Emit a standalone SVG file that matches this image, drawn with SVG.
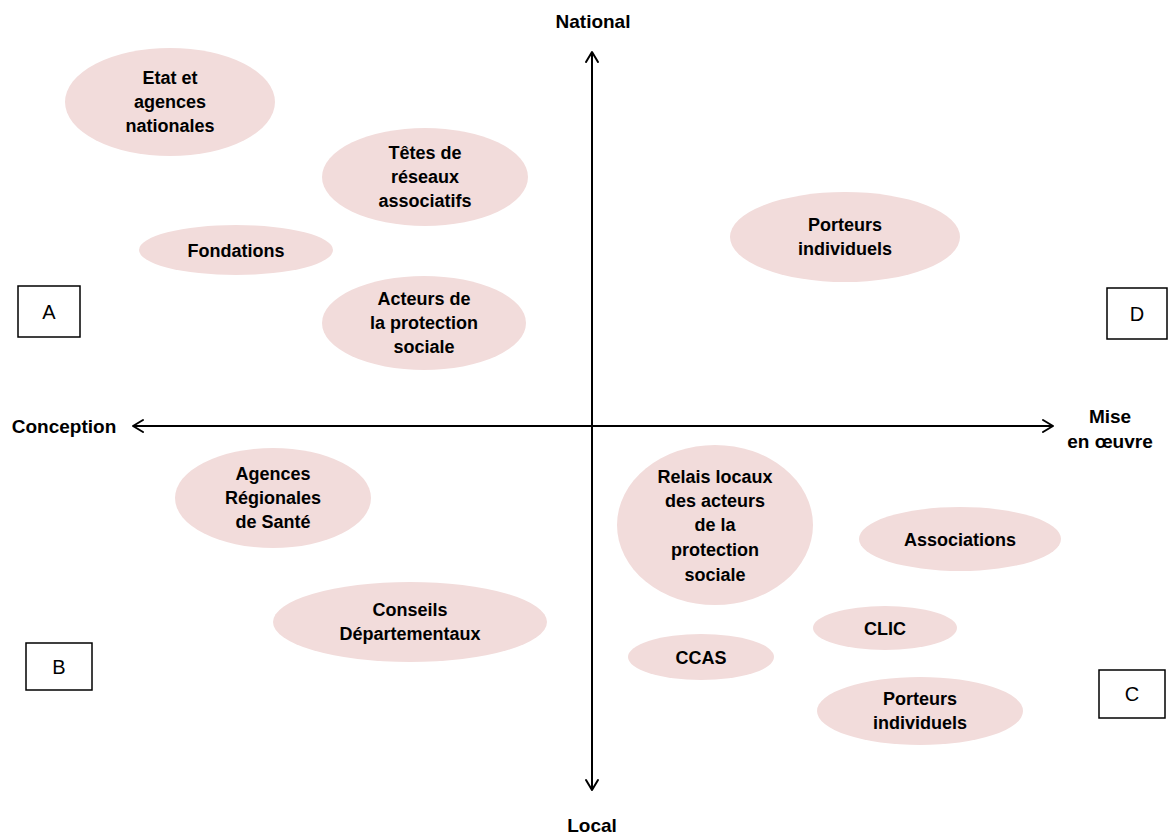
<svg xmlns="http://www.w3.org/2000/svg" width="1175" height="834" viewBox="0 0 1175 834">
<style>
.n{fill:#f2dcdb;stroke:none}
.t{font-family:"Liberation Sans",Arial,sans-serif;font-weight:bold;font-size:18px;fill:#000;text-anchor:middle}
.a{font-size:19px}
.b{fill:#fff;stroke:#000;stroke-width:1.5}
.bt{font-family:"Liberation Sans",Arial,sans-serif;font-size:20px;fill:#000;text-anchor:middle}
.ax{stroke:#000;stroke-width:2;fill:none}
.ah{stroke:#000;stroke-width:2;fill:none;stroke-linecap:round;stroke-linejoin:round}
</style>
<rect width="1175" height="834" fill="#fff"/>
<g id="connectors">
<line class="ax" x1="592" y1="52" x2="592" y2="790"/>
<polyline class="ah" points="586,62 592,52 598,62"/>
<polyline class="ah" points="586,780 592,790 598,780"/>
<line class="ax" x1="133" y1="426" x2="1053" y2="426"/>
<polyline class="ah" points="143,420 133,426 143,432"/>
<polyline class="ah" points="1043,420 1053,426 1043,432"/>
</g>
<g id="axis-labels">
<text class="t a" x="593" y="28">National</text>
<text class="t a" x="592" y="832">Local</text>
<text class="t a" x="64" y="433">Conception</text>
<text class="t a" x="1110" y="423">Mise</text>
<text class="t a" x="1110" y="448">en œuvre</text>
</g>
<g id="n-etat"><ellipse class="n" cx="170" cy="102" rx="105" ry="54"/>
<text class="t" x="170" y="84">Etat et</text><text class="t" x="170" y="108">agences</text><text class="t" x="170" y="132">nationales</text></g>
<g id="n-tetes"><ellipse class="n" cx="425" cy="177" rx="103" ry="49"/>
<text class="t" x="425" y="159">Têtes de</text><text class="t" x="425" y="183">réseaux</text><text class="t" x="425" y="207">associatifs</text></g>
<g id="n-fondations"><ellipse class="n" cx="236" cy="250" rx="97" ry="25"/>
<text class="t" x="236" y="257">Fondations</text></g>
<g id="n-acteurs"><ellipse class="n" cx="424" cy="323" rx="102" ry="47"/>
<text class="t" x="424" y="305">Acteurs de</text><text class="t" x="424" y="329">la protection</text><text class="t" x="424" y="353">sociale</text></g>
<g id="n-porteurs1"><ellipse class="n" cx="845" cy="237" rx="115" ry="45"/>
<text class="t" x="845" y="231">Porteurs</text><text class="t" x="845" y="255">individuels</text></g>
<g id="n-ars"><ellipse class="n" cx="273" cy="498" rx="98" ry="50"/>
<text class="t" x="273" y="480">Agences</text><text class="t" x="273" y="504">Régionales</text><text class="t" x="273" y="528">de Santé</text></g>
<g id="n-conseils"><ellipse class="n" cx="410" cy="622" rx="137" ry="40"/>
<text class="t" x="410" y="616">Conseils</text><text class="t" x="410" y="640">Départementaux</text></g>
<g id="n-relais"><ellipse class="n" cx="715" cy="525" rx="98" ry="80"/>
<text class="t" x="715" y="483">Relais locaux</text><text class="t" x="715" y="507">des acteurs</text><text class="t" x="715" y="531">de la</text><text class="t" x="715" y="556">protection</text><text class="t" x="715" y="581">sociale</text></g>
<g id="n-associations"><ellipse class="n" cx="960" cy="539" rx="101" ry="32"/>
<text class="t" x="960" y="546">Associations</text></g>
<g id="n-clic"><ellipse class="n" cx="885" cy="628" rx="72" ry="22"/>
<text class="t" x="885" y="635">CLIC</text></g>
<g id="n-ccas"><ellipse class="n" cx="701" cy="657" rx="73" ry="23"/>
<text class="t" x="701" y="664">CCAS</text></g>
<g id="n-porteurs2"><ellipse class="n" cx="920" cy="711" rx="103" ry="34"/>
<text class="t" x="920" y="705">Porteurs</text><text class="t" x="920" y="729">individuels</text></g>
<g id="box-a"><rect class="b" x="18" y="286" width="62" height="51"/><text class="bt" x="49" y="319">A</text></g>
<g id="box-d"><rect class="b" x="1107" y="288" width="60" height="51"/><text class="bt" x="1137" y="321">D</text></g>
<g id="box-b"><rect class="b" x="26" y="643" width="66" height="47"/><text class="bt" x="59" y="674">B</text></g>
<g id="box-c"><rect class="b" x="1099" y="670" width="66" height="48"/><text class="bt" x="1132" y="701">C</text></g>
</svg>
